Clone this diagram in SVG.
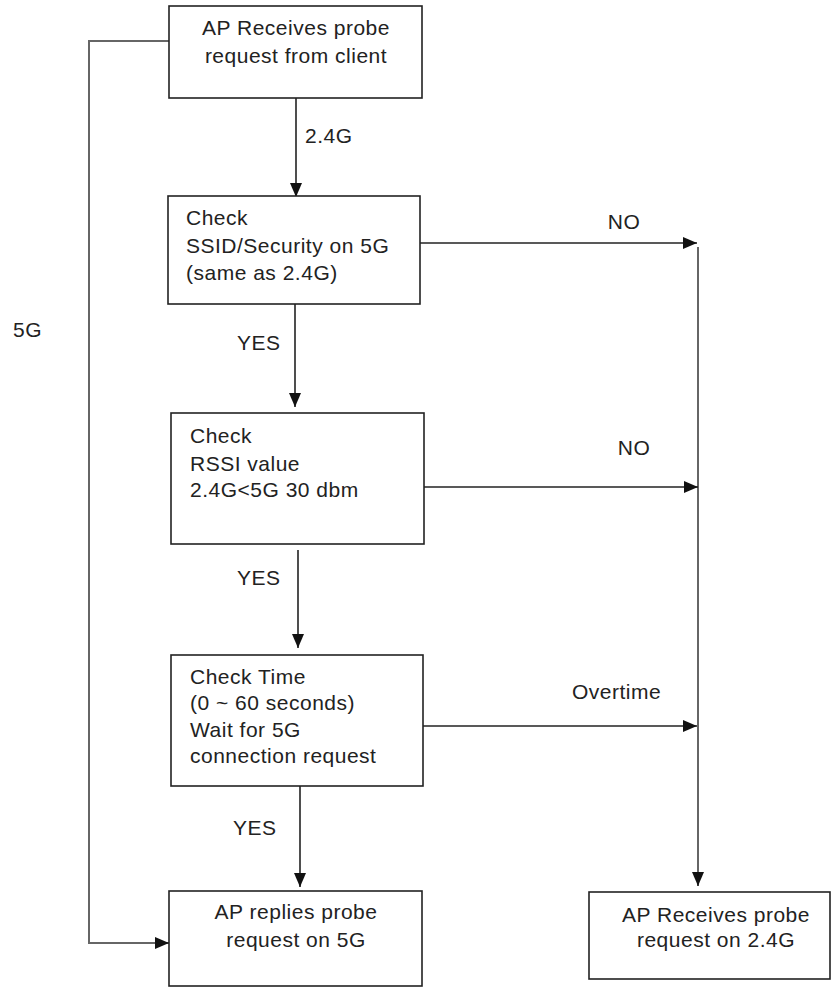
<svg xmlns="http://www.w3.org/2000/svg" width="831" height="987" viewBox="0 0 831 987">
<style>
  .box { fill: #ffffff; stroke: #222; stroke-width: 1.6; }
  .t { font-family: "Liberation Sans", Arial, sans-serif; font-size: 21px; fill: #222; letter-spacing: 0.5px; }
  .c { text-anchor: middle; }
  .ln { fill: none; stroke: #222; stroke-width: 1.6; }
  .gr { fill: none; stroke: #666; stroke-width: 2; }
</style>
<defs>
  <marker id="ah" markerWidth="14" markerHeight="12" refX="14" refY="6" orient="auto" markerUnits="userSpaceOnUse">
    <path d="M0,0 L14,6 L0,12 z" fill="#111"/>
  </marker>
</defs>
<rect width="831" height="987" fill="#ffffff"/>

<g id="connectors">
  <path class="gr" d="M169,41 H89 V943 H160"/>
  <path class="ln" d="M160,943 H169" marker-end="url(#ah)"/>
  <path class="ln" d="M296,98 V197" marker-end="url(#ah)"/>
  <path class="ln" d="M420,243 H697" marker-end="url(#ah)"/>
  <path class="gr" d="M698,247 V876"/>
  <path class="ln" d="M698,876 V886" marker-end="url(#ah)"/>
  <path class="ln" d="M295,304 V407" marker-end="url(#ah)"/>
  <path class="ln" d="M424,487 H698" marker-end="url(#ah)"/>
  <path class="ln" d="M298,550 V648" marker-end="url(#ah)"/>
  <path class="ln" d="M423,726 H697" marker-end="url(#ah)"/>
  <path class="ln" d="M300,786 V887" marker-end="url(#ah)"/>
  <text class="t" x="305" y="143">2.4G</text>
  <text class="t" x="13" y="337">5G</text>
  <text class="t c" x="624" y="229">NO</text>
  <text class="t c" x="634" y="455">NO</text>
  <text class="t" x="572" y="699">Overtime</text>
  <text class="t" x="237" y="350">YES</text>
  <text class="t" x="237" y="585">YES</text>
  <text class="t" x="233" y="835">YES</text>
</g>

<g id="start">
  <rect class="box" x="169" y="6" width="253" height="92"/>
  <text class="t c" x="296" y="35">AP Receives probe</text>
  <text class="t c" x="296" y="63">request from client</text>
</g>

<g id="check-ssid">
  <rect class="box" x="168" y="196" width="252" height="108"/>
  <text class="t" x="186" y="225">Check</text>
  <text class="t" x="186" y="253">SSID/Security on 5G</text>
  <text class="t" x="186" y="280">(same as 2.4G)</text>
</g>

<g id="check-rssi">
  <rect class="box" x="171" y="413" width="253" height="131"/>
  <text class="t" x="190" y="443">Check</text>
  <text class="t" x="190" y="471">RSSI value</text>
  <text class="t" x="190" y="497">2.4G&lt;5G 30 dbm</text>
</g>

<g id="check-time">
  <rect class="box" x="171" y="655" width="252" height="131"/>
  <text class="t" x="190" y="684">Check Time</text>
  <text class="t" x="190" y="710">(0 ~ 60 seconds)</text>
  <text class="t" x="190" y="737">Wait for 5G</text>
  <text class="t" x="190" y="763">connection request</text>
</g>

<g id="reply-5g">
  <rect class="box" x="169" y="891" width="253" height="95"/>
  <text class="t c" x="296" y="919">AP replies probe</text>
  <text class="t c" x="296" y="947">request on 5G</text>
</g>

<g id="receive-24g">
  <rect class="box" x="589" y="892" width="241" height="87"/>
  <text class="t c" x="716" y="922">AP Receives probe</text>
  <text class="t c" x="716" y="947">request on 2.4G</text>
</g>
</svg>
